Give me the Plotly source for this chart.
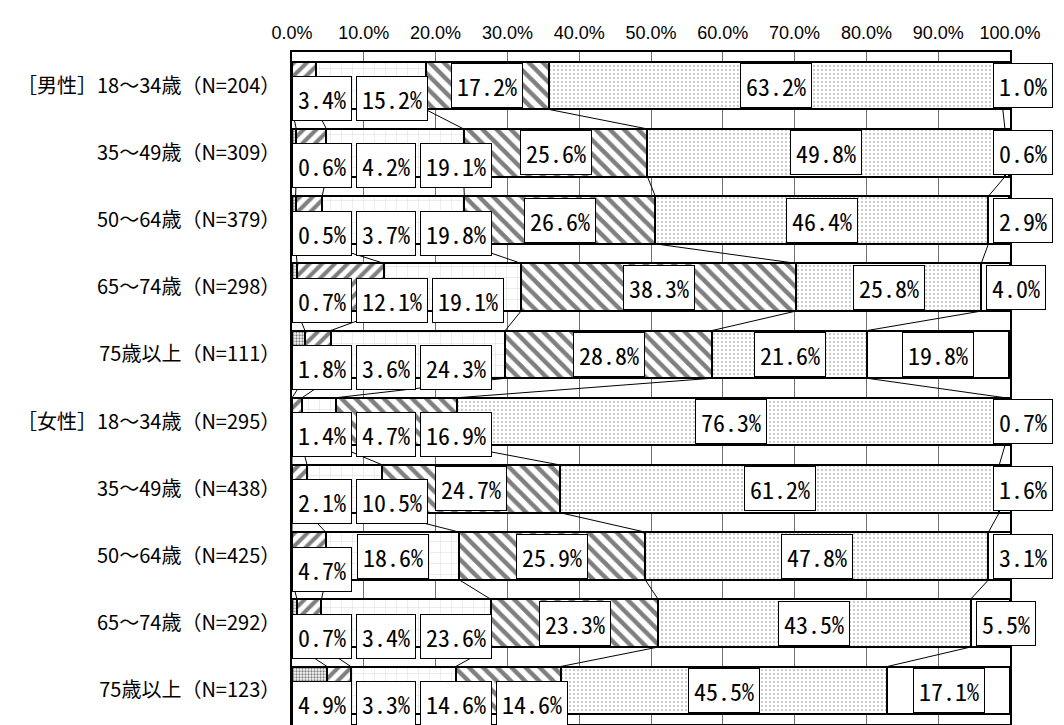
import plotly.graph_objects as go

# ---------------- data ----------------
row_labels = [
    "［男性］18～34歳（N=204）", "35～49歳（N=309）", "50～64歳（N=379）",
    "65～74歳（N=298）", "75歳以上（N=111）",
    "［女性］18～34歳（N=295）", "35～49歳（N=438）", "50～64歳（N=425）",
    "65～74歳（N=292）", "75歳以上（N=123）",
]
series_names = ["区分1", "区分2", "区分3", "区分4", "区分5", "区分6"]
cat1 = [0.0, 0.6, 0.5, 0.7, 1.8, 0.0, 0.0, 0.0, 0.7, 4.9]
cat2 = [3.4, 4.2, 3.7, 12.1, 3.6, 1.4, 2.1, 4.7, 3.4, 3.3]
cat3 = [15.2, 19.1, 19.8, 19.1, 24.3, 4.7, 10.5, 18.6, 23.6, 14.6]
cat4 = [17.2, 25.6, 26.6, 38.3, 28.8, 16.9, 24.7, 25.9, 23.3, 14.6]
cat5 = [63.2, 49.8, 46.4, 25.8, 21.6, 76.3, 61.2, 47.8, 43.5, 45.5]
cat6 = [1.0, 0.6, 2.9, 4.0, 19.8, 0.7, 1.6, 3.1, 5.5, 17.1]
tick_vals = [0, 10, 20, 30, 40, 50, 60, 70, 80, 90, 100]
tick_text = ["0.0%", "10.0%", "20.0%", "30.0%", "40.0%", "50.0%",
             "60.0%", "70.0%", "80.0%", "90.0%", "100.0%"]

series = [cat1, cat2, cat3, cat4, cat5, cat6]

# ---------------- layout constants ----------------
W, H = 1064, 725
ML, MR, MT, MB = 284, 62, 44, 9
PLOT_W = W - ML - MR
PX = PLOT_W / 100.0
BAR_W = 0.71
LABEL_FONT = "Noto Sans Mono CJK JP, DejaVu Sans Mono, monospace"
LABEL_SIZE = 24
CHAR_W = LABEL_SIZE * 0.5
PAD = 5
GAP = 4
LOWER = 13
BOX_H = 43
FIG_RIGHT_VISIBLE = W - 18  # keep right-edge labels inside the visible page

patterns = [
    dict(shape=".", fgcolor="#000000", bgcolor="#ffffff", size=3, solidity=0.45),
    dict(shape="/", fgcolor="#000000", bgcolor="#ffffff", size=9, solidity=0.45),
    dict(shape="+", fgcolor="#b0b0b0", bgcolor="#ffffff", size=11, solidity=0.08),
    dict(shape="\\", fgcolor="#000000", bgcolor="#ffffff", size=10, solidity=0.45),
    dict(shape=".", fgcolor="#707070", bgcolor="#ffffff", size=4, solidity=0.18),
    dict(shape="", fgcolor="#000000", bgcolor="#ffffff", size=8, solidity=0.2),
]

ys = list(range(len(row_labels)))
fig = go.Figure()
for name, vals, pat in zip(series_names, series, patterns):
    fig.add_trace(go.Bar(
        name=name, x=vals, y=ys, orientation="h", width=BAR_W,
        marker=dict(color="#ffffff", pattern=pat,
                    line=dict(color="#000000", width=2)),
        hoverinfo="x+name", showlegend=False,
    ))

# series lines connecting segment boundaries
n = len(row_labels)
cums = []
for i in range(n):
    c, acc = 0.0, []
    for s in series[:-1]:
        c += s[i]
        acc.append(c)
    cums.append(acc)
lx, ly = [], []
for k in range(len(series) - 1):
    for i in range(n - 1):
        lx += [cums[i][k], cums[i + 1][k], None]
        ly += [i + BAR_W / 2, i + 1 - BAR_W / 2, None]
fig.add_trace(go.Scatter(x=lx, y=ly, mode="lines",
                         line=dict(color="#000000", width=1),
                         hoverinfo="skip", showlegend=False))

# data labels (x in paper units so labels beyond 100% stay visible)
annotations = []
last = len(series) - 1
for i in range(n):
    cum = 0.0
    prev_right = -1e9
    for k, s in enumerate(series):
        v = s[i]
        if v <= 0:
            cum += v
            continue
        text = f"{v:.1f}%"
        w = len(text) * CHAR_W + 2 * PAD + 2
        start, end = cum * PX, (cum + v) * PX
        left = (start + end) / 2 - w / 2
        lowered = False
        if k == last and w > (end - start):
            left = min(start + 5, FIG_RIGHT_VISIBLE - ML - w - 1)
        else:
            nl = max(left, 0, prev_right + GAP)
            lowered = (nl - left) > 2
            left = nl
        prev_right = left + w
        annotations.append(dict(
            x=(left + w / 2) / PLOT_W, y=i, xref="paper", yref="y",
            text=text, showarrow=False, xanchor="center", yanchor="middle",
            yshift=-LOWER if lowered else 0,
            width=w - 2, height=BOX_H, align="center", valign="middle",
            font=dict(family=LABEL_FONT, size=LABEL_SIZE, color="#000000"),
            bgcolor="#ffffff", bordercolor="#000000", borderwidth=1,
            borderpad=0,
        ))
        cum += v

fig.update_layout(
    width=W, height=H, barmode="stack", bargap=0.29,
    paper_bgcolor="#ffffff", plot_bgcolor="#ffffff",
    margin=dict(l=ML, r=MR, t=MT, b=MB, autoexpand=False),
    annotations=annotations,
    xaxis=dict(
        side="top", range=[0, 100], tickvals=tick_vals, ticktext=tick_text,
        showgrid=True, gridcolor="#707070", gridwidth=1,
        showline=True, linecolor="#000000", linewidth=1.5, mirror=True,
        ticks="", ticklabelstandoff=4, zeroline=False, automargin=False,
        tickfont=dict(family="Liberation Sans Narrow, Liberation Sans, Arial", size=18,
                      color="#000000"),
    ),
    yaxis=dict(
        range=[n - 0.5, -0.5], tickvals=ys, ticktext=row_labels,
        showgrid=False, zeroline=False, automargin=False,
        showline=True, linecolor="#000000", linewidth=1.5, mirror=True,
        ticks="", ticklabelstandoff=6,
        tickfont=dict(family="Noto Sans CJK JP", size=20, color="#000000"),
    ),
)

fig.write_html("out.html")
